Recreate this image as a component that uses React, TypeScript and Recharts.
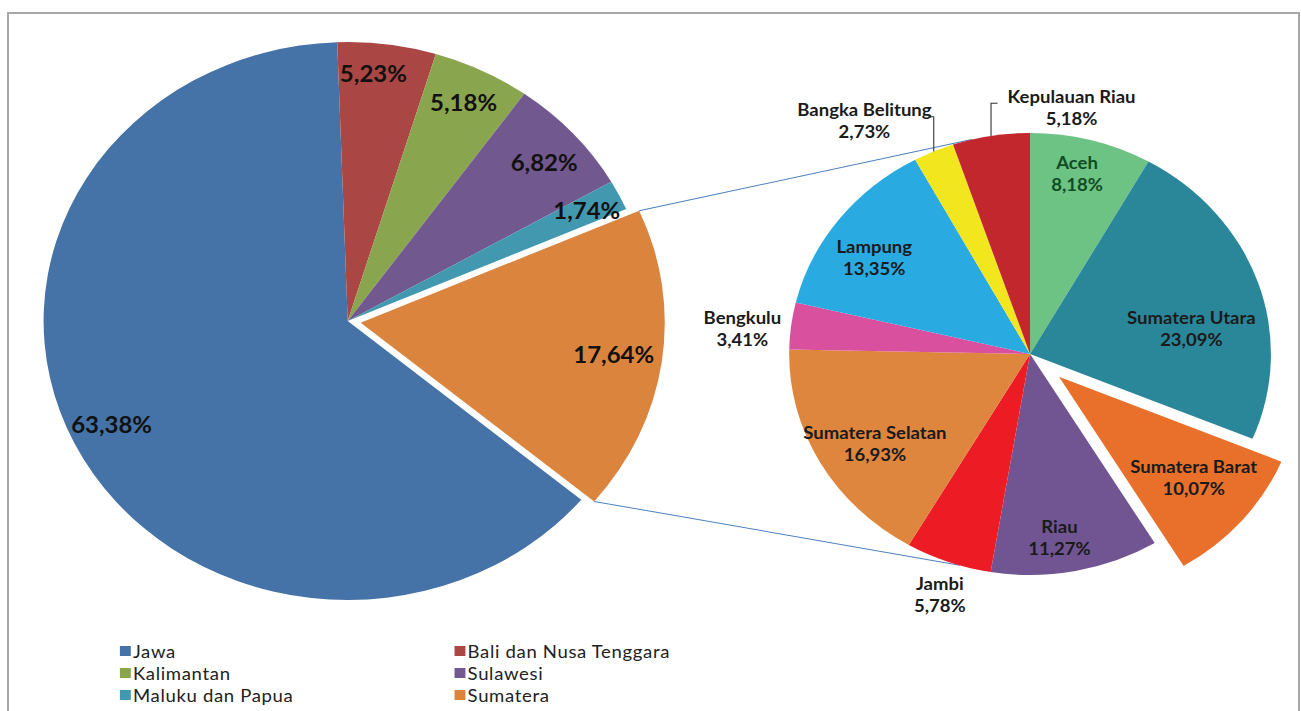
import { PieChart, Pie, Cell, Legend, Customized } from "recharts";

// kontribusi per wilayah (persen)
const regions = ["Jawa", "Bali dan Nusa Tenggara", "Kalimantan", "Sulawesi", "Maluku dan Papua", "Sumatera"];
const regionShares = [63.38, 5.23, 5.18, 6.82, 1.74, 17.64];
const regionColors = ["#4572A7", "#AA4643", "#89A54E", "#71588F", "#4198AF", "#DB843D"];

// rincian Sumatera per provinsi (persen)
const provinces = [
  "Aceh",
  "Sumatera Utara",
  "Sumatera Barat",
  "Riau",
  "Jambi",
  "Sumatera Selatan",
  "Bengkulu",
  "Lampung",
  "Bangka Belitung",
  "Kepulauan Riau",
];
const provinceShares = [8.18, 23.09, 10.07, 11.27, 5.78, 16.93, 3.41, 13.35, 2.73, 5.18];
const provinceColors = [
  "#6CC383", "#2A879A", "#E8702A", "#715592", "#ED1C24",
  "#DE853E", "#D9509F", "#29ABE2", "#F2E61E", "#C1272D",
];

const regionData = regions.map((name, i) => ({ name, value: regionShares[i] }));
const provinceData = provinces.map((name, i) => ({ name, value: provinceShares[i] }));

// layout (svg units, chart is stretched horizontally like the original picture)
const STRETCH = 1.09;
const W = 1193;
const H = 711;
const MAIN = { cx: 319, cy: 321, r: 279, explode: 12, exploded: 5 };
const SUB = { cx: 945, cy: 354, r: 221, explode: 35, exploded: 2 };
const mainStart = 92 + (regionShares[0] / 100) * 360;
const subStart = 90;

// label placement: angle nudge (clockwise deg) and radius factor
const mainLabelNudge = [0.6, -2, -0.2, 0.9, 0.1, -0.2];
const mainLabelR = [0.86, 0.89, 0.87, 0.86, 0.88, 0.84];
const subLabel = [
  { nudge: -1.3, r: 0.84 },
  { nudge: 9, r: 0.68 },
  { nudge: -1.7, r: 0.72 },
  { nudge: 2.5, r: 0.84 },
  { nudge: -0.8, r: 1.15 },
  { nudge: -2.8, r: 0.76 },
  { nudge: -1.7, r: 1.2 },
  { nudge: -3.5, r: 0.78 },
  { nudge: -9.5, r: 1.26, leader: true },
  { nudge: 18.1, r: 1.13, leader: true },
];
// where the connector lines meet the second pie (recharts angle)
const connectorAngles = [-256, -107];

const RAD = Math.PI / 180;
const sum = (a: number[]) => a.reduce((s, v) => s + v, 0);

function sliceAngles(shares: number[], idx: number, start: number) {
  const total = sum(shares);
  const before = sum(shares.slice(0, idx));
  const a0 = start - (before / total) * 360;
  const a1 = a0 - (shares[idx] / total) * 360;
  return { a0, a1, mid: (a0 + a1) / 2 };
}

function shift(angle: number, dist: number) {
  return { dx: dist * Math.cos(angle * RAD), dy: -dist * Math.sin(angle * RAD) };
}

const mainShift = shift(sliceAngles(regionShares, MAIN.exploded, mainStart).mid, MAIN.explode);
const subShift = shift(sliceAngles(provinceShares, SUB.exploded, subStart).mid, SUB.explode);

const fmt = (v: number) => v.toFixed(2).replace(".", ",") + "%";

function MainLabel(props: any) {
  const { cx, cy, midAngle, outerRadius, index, value } = props;
  const off = index === MAIN.exploded ? mainShift : { dx: 0, dy: 0 };
  const a = (midAngle - mainLabelNudge[index]) * RAD;
  const r = outerRadius * mainLabelR[index];
  const x = cx + off.dx + r * Math.cos(a);
  const y = cy + off.dy - r * Math.sin(a);
  return (
    <text x={x} y={y} textAnchor="middle" dominantBaseline="central" fill="#111"
      fontFamily="Lato, sans-serif" fontWeight="bold" fontSize={22}>
      {fmt(value)}
    </text>
  );
}

function SubLabel(props: any) {
  const { cx, cy, midAngle, outerRadius, index, value, name } = props;
  const off = index === SUB.exploded ? subShift : { dx: 0, dy: 0 };
  const p = subLabel[index];
  const a = (midAngle - p.nudge) * RAD;
  const r = outerRadius * p.r;
  const x = cx + off.dx + r * Math.cos(a);
  const y = cy + off.dy - r * Math.sin(a);
  const color = index === 0 ? "#0f4d24" : "#1a1a1a";
  let leader = null;
  if (p.leader) {
    const ex = cx + outerRadius * Math.cos(midAngle * RAD);
    const ey = cy - outerRadius * Math.sin(midAngle * RAD);
    const ty = y - 4;
    const dir = x > ex ? 6 : -5;
    leader = <path d={`M${ex},${ey} L${ex},${ty} L${ex + dir},${ty}`} stroke="#333" strokeWidth={1} fill="none" />;
  }
  return (
    <g>
      {leader}
      <text x={x} y={y} textAnchor="middle" fill={color}
        fontFamily="Lato, sans-serif" fontWeight="bold" fontSize={17}>
        <tspan x={x} y={y - 11} dominantBaseline="central">{name}</tspan>
        <tspan x={x} y={y + 11} dominantBaseline="central">{fmt(value)}</tspan>
      </text>
    </g>
  );
}

function Connectors() {
  const s = sliceAngles(regionShares, MAIN.exploded, mainStart);
  const from = [s.a0, s.a1].map((a) => ({
    x: MAIN.cx + mainShift.dx + MAIN.r * Math.cos(a * RAD),
    y: MAIN.cy + mainShift.dy - MAIN.r * Math.sin(a * RAD),
  }));
  const to = connectorAngles.map((a) => ({
    x: SUB.cx + SUB.r * Math.cos(a * RAD),
    y: SUB.cy - SUB.r * Math.sin(a * RAD),
  }));
  return (
    <g>
      {from.map((f, i) => (
        <line key={i} x1={f.x} y1={f.y} x2={to[i].x} y2={to[i].y} stroke="#4F81BD" strokeWidth={1} />
      ))}
    </g>
  );
}

function LegendBox() {
  return (
    <div style={{ display: "grid", gridTemplateColumns: "307px 300px", fontFamily: "Lato, sans-serif", fontSize: 17, letterSpacing: 0.6, color: "#222" }}>
      {regions.map((name, i) => (
        <div key={name} style={{ display: "flex", alignItems: "center", height: 22 }}>
          <span style={{ display: "inline-block", width: 10, height: 10, background: regionColors[i], marginRight: 2 }} />
          <span>{name}</span>
        </div>
      ))}
    </div>
  );
}

export default function App() {
  return (
    <div style={{ position: "absolute", left: 0, top: 0, width: 1301, height: 711, overflow: "hidden", background: "#fff" }}>
      <div style={{ position: "absolute", left: 7, top: 12, width: 1289, height: 760, border: "2px solid #a8a8a8" }} />
      <div style={{ position: "absolute", left: 0, top: 0, transform: `scaleX(${STRETCH})`, transformOrigin: "0 0" }}>
        <PieChart width={W} height={H} margin={{ top: 0, right: 0, bottom: 0, left: 0 }}>
          <Pie data={regionData} dataKey="value" nameKey="name" cx={MAIN.cx} cy={MAIN.cy} outerRadius={MAIN.r}
            startAngle={mainStart} endAngle={mainStart - 360} stroke="none" isAnimationActive={false}
            label={MainLabel} labelLine={false}>
            {regionData.map((d, i) => (
              <Cell key={d.name} fill={i === MAIN.exploded ? "none" : regionColors[i]} />
            ))}
          </Pie>
          <Pie data={regionData} dataKey="value" nameKey="name" cx={MAIN.cx + mainShift.dx} cy={MAIN.cy + mainShift.dy}
            outerRadius={MAIN.r} startAngle={mainStart} endAngle={mainStart - 360} stroke="none"
            isAnimationActive={false} legendType="none">
            {regionData.map((d, i) => (
              <Cell key={d.name} fill={i === MAIN.exploded ? regionColors[i] : "none"} />
            ))}
          </Pie>
          <Pie data={provinceData} dataKey="value" nameKey="name" cx={SUB.cx} cy={SUB.cy} outerRadius={SUB.r}
            startAngle={subStart} endAngle={subStart - 360} stroke="none" isAnimationActive={false}
            label={SubLabel} labelLine={false} legendType="none">
            {provinceData.map((d, i) => (
              <Cell key={d.name} fill={i === SUB.exploded ? "none" : provinceColors[i]} />
            ))}
          </Pie>
          <Pie data={provinceData} dataKey="value" nameKey="name" cx={SUB.cx + subShift.dx} cy={SUB.cy + subShift.dy}
            outerRadius={SUB.r} startAngle={subStart} endAngle={subStart - 360} stroke="none"
            isAnimationActive={false} legendType="none">
            {provinceData.map((d, i) => (
              <Cell key={d.name} fill={i === SUB.exploded ? provinceColors[i] : "none"} />
            ))}
          </Pie>
          <Customized component={Connectors} />
          <Legend content={LegendBox} wrapperStyle={{ position: "absolute", left: 110, top: 640, width: 620 }} />
        </PieChart>
      </div>
    </div>
  );
}
